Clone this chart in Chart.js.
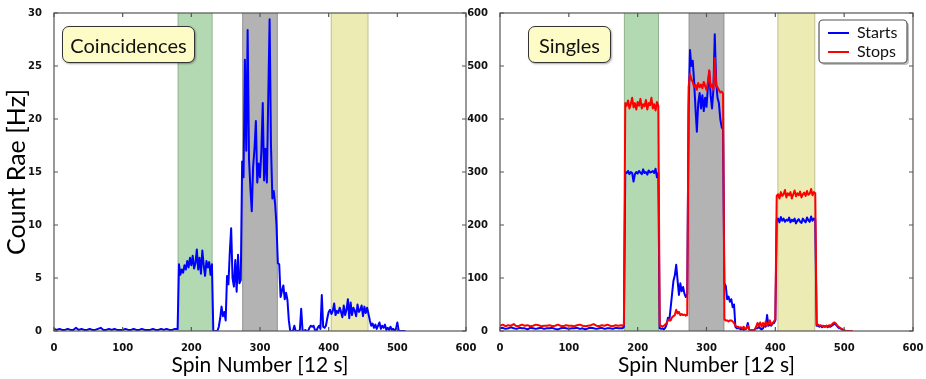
<!DOCTYPE html>
<html>
<head>
<meta charset="utf-8">
<script src="https://cdn.jsdelivr.net/npm/chart.js@4.4.0/dist/chart.umd.min.js"></script>
<style>
  body { margin: 0; background: #fff; }
  #wrap { position: relative; width: 926px; height: 379px; overflow: hidden; }
  #wrap canvas { position: absolute; top: 0; }
  .note {
    position: absolute; box-sizing: border-box;
    background: #fdfcc6; border: 1.5px solid #333; border-radius: 7px;
    box-shadow: 1px 1px 2px rgba(0,0,0,0.35);
    font-family: Lato, sans-serif; font-size: 20px; color: #111;
    display: flex; align-items: center; justify-content: center;
  }
</style>
</head>
<body>
<div id="wrap">
  <canvas id="coincChart" width="480" height="379" style="left:0"></canvas>
  <canvas id="singlesChart" width="464" height="379" style="left:462px"></canvas>
  <div class="note" style="left:62px;top:26px;width:133px;height:37px">Coincidences</div>
  <div class="note" style="left:528px;top:26px;width:83px;height:37px">Singles</div>
</div>
<script>
// spin number of each sample: every 4th spin on the flat baseline, every 2nd after that
const spins = [
    0,4,8,12,16,20,24,28,32,36,40,44,48,52,56,60,64,68,72,76,80,84,88,92,96,
    100,104,108,112,116,120,124,128,132,136,140,144,148,152,156,160,164,168,172,176,
    178,180,182,184,186,188,190,192,194,196,
    198,200,202,204,206,208,210,212,214,216,
    218,220,222,224,226,228,230,232,234,236,
    238,240,242,244,246,248,250,252,254,256,
    258,260,262,264,266,268,270,272,274,276,
    278,280,282,284,286,288,290,292,294,296,
    298,300,302,304,306,308,310,312,314,316,
    318,320,322,324,326,328,330,332,334,336,
    338,340,342,344,346,348,350,352,354,356,
    358,360,362,364,366,368,370,372,374,376,
    378,380,382,384,386,388,390,392,394,396,
    398,400,402,404,406,408,410,412,414,416,
    418,420,422,424,426,428,430,432,434,436,
    438,440,442,444,446,448,450,452,454,456,
    458,460,462,464,466,468,470,472,474,476,
    478,480,482,484,486,488,490,492,494,496,
    498,500,502,504,506,508,510,512
];

// coincidence rate [Hz]
const coincidences = [
    0.2,0.1,0.2,0.1,0.1,0.2,0.1,0.1,0.3,
    0.1,0.2,0.1,0.1,0.2,0.1,0.1,0.2,0.3,
    0.1,0.1,0.2,0.1,0.2,0.1,0.1,0.1,0.2,
    0.1,0.1,0.2,0.1,0.1,0.2,0.1,0.1,0.1,
    0.2,0.1,0.1,0.2,0.1,0.2,0.1,0.1,0.2,
    0.2,0.2,6.3,5.3,5.8,5.5,6.2,5.8,6.6,6.0,
    6.9,6.2,7.1,5.9,6.4,7.7,5.8,6.9,5.4,7.6,
    6.2,5.2,6.6,6.0,6.5,5.3,6.3,0.0,0.0,0.0,
    0.0,0.4,1.2,2.3,1.4,1.8,1.0,5.2,4.4,7.4,
    9.7,5.0,4.2,6.7,3.7,7.2,4.5,4.8,16.0,14.5,
    25.6,17.0,28.4,16.2,13.5,11.3,15.5,17.2,19.8,14.0,
    15.8,14.5,17.0,21.5,14.2,17.2,14.0,22.0,29.4,17.5,
    12.5,13.2,12.0,10.0,6.4,6.3,3.2,3.8,4.3,3.0,
    3.6,2.9,1.0,0.0,0.0,0.0,0.5,0.0,0.0,0.0,
    0.1,2.1,0.0,0.0,0.1,0.0,0.0,0.3,0.5,0.4,
    0.5,0.1,0.0,0.3,0.5,0.2,3.4,0.4,0.3,0.5,
    1.2,1.8,2.0,1.6,1.9,2.6,1.5,1.9,1.7,2.2,
    1.8,1.3,2.4,1.5,2.0,3.0,1.2,2.7,1.5,2.2,
    1.9,1.4,2.5,1.8,2.0,2.4,1.4,2.3,1.7,2.2,
    1.6,1.0,0.5,0.7,0.3,0.6,0.2,0.5,0.8,0.2,
    0.5,0.3,0.6,0.1,0.3,0.1,0.4,0.1,0.2,0.0,
    0.2,0.8,0.0,0.0,0.0,0.0,0.0,0.0
];

// singles rates [Hz]
const starts = [
    5,6,4,5,7,5,4,6,5,
    5,3,6,5,4,5,6,4,5,
    5,6,4,3,5,6,5,4,5,
    5,6,4,5,3,5,6,5,4,
    5,6,4,5,5,4,6,5,5,
    5,8,300,298,302,296,300,298,282,296,
    300,297,302,299,296,305,298,300,295,303,
    299,300,302,298,306,290,298,5,4,5,
    3,6,12,25,20,45,70,95,105,125,
    95,68,90,75,83,70,64,70,420,530,
    500,510,470,420,376,430,449,420,445,415,
    440,423,460,490,445,420,455,560,470,440,
    430,400,385,380,90,85,60,65,55,60,
    45,50,8,5,5,5,3,5,2,3,
    5,15,3,0,2,0,3,5,5,8,
    5,3,5,10,8,30,10,12,10,14,
    15,20,210,212,205,215,208,212,206,210,
    208,214,205,210,207,212,203,208,211,206,
    204,212,208,205,214,209,206,216,208,212,
    210,10,10,8,10,7,9,8,10,7,
    9,8,10,12,14,12,9,6,5,4,
    2,1,0,0,0,0,0,0
];

const stops = [
    10,12,9,11,10,13,9,10,12,
    10,11,9,10,12,11,9,10,10,
    11,9,10,12,10,9,11,10,10,
    9,11,12,10,9,10,11,13,10,
    9,11,10,12,10,9,11,10,11,
    10,12,430,425,435,420,428,440,422,430,
    418,432,425,438,420,428,424,436,418,430,
    426,440,420,428,416,432,425,10,10,8,
    10,12,15,20,22,20,26,28,30,40,
    33,36,30,32,30,31,29,30,460,485,
    475,470,460,465,455,468,460,465,458,470,
    462,455,470,492,460,465,455,515,462,460,
    455,450,452,448,22,20,20,18,20,20,
    18,15,10,8,8,6,7,5,8,4,
    5,10,3,0,2,0,2,8,15,10,
    16,8,15,10,18,10,14,20,12,15,
    18,22,255,258,250,262,255,258,266,252,
    260,256,262,250,258,265,254,260,256,263,
    252,258,261,255,264,257,259,268,256,262,
    260,12,12,10,11,9,10,8,10,9,
    11,10,12,15,16,14,10,8,6,4,
    3,1,0,0,0,0,0,0
];

// shaded spin ranges
const bandStarts = [180, 274, 403];
const bandEnds = [231, 326, 458];
const bandColors = ['#b3d9b3', '#b3b3b3', '#ebebb3'];

const titleFont = 'Lato, sans-serif';
const tickFont = {family: 'DejaVu Sans', size: 10, weight: 'bold'};

function points(values) {
    return spins.map((s, i) => ({x: s, y: values[i]}));
}

// shaded regions behind the lines
const bandsPlugin = {
    id: 'bands',
    beforeDatasetsDraw(chart) {
        const {ctx, chartArea: a, scales: {x}} = chart;
        ctx.save();
        bandStarts.forEach((s, i) => {
            const x0 = x.getPixelForValue(s);
            const x1 = x.getPixelForValue(bandEnds[i]);
            ctx.fillStyle = bandColors[i];
            ctx.fillRect(x0, a.top, x1 - x0, a.height);
            ctx.strokeStyle = 'rgba(0,0,0,0.18)';
            ctx.lineWidth = 1;
            ctx.beginPath();
            ctx.moveTo(x0 + 0.5, a.top); ctx.lineTo(x0 + 0.5, a.bottom);
            ctx.moveTo(x1 - 0.5, a.top); ctx.lineTo(x1 - 0.5, a.bottom);
            ctx.stroke();
        });
        ctx.restore();
    }
};

// box round the plot with inward ticks on all four sides
const framePlugin = {
    id: 'frame',
    afterDatasetsDraw(chart) {
        const {ctx, chartArea: a, scales: {x, y}} = chart;
        ctx.save();
        ctx.strokeStyle = '#555';
        ctx.lineWidth = 1.2;
        ctx.strokeRect(a.left, a.top, a.width, a.height);
        ctx.beginPath();
        x.ticks.forEach(t => {
            const px = x.getPixelForValue(t.value);
            ctx.moveTo(px, a.bottom); ctx.lineTo(px, a.bottom - 4);
            ctx.moveTo(px, a.top); ctx.lineTo(px, a.top + 4);
        });
        y.ticks.forEach(t => {
            const py = y.getPixelForValue(t.value);
            ctx.moveTo(a.left, py); ctx.lineTo(a.left + 4, py);
            ctx.moveTo(a.right, py); ctx.lineTo(a.right - 4, py);
        });
        ctx.stroke();
        ctx.restore();
    }
};

// moves the legend to the top right corner of the plot and frames it
const legendBoxPlugin = {
    id: 'legendBox',
    afterLayout(chart) {
        const lg = chart.legend, a = chart.chartArea;
        lg.left = a.right - 88;
        lg.right = a.right;
        lg.top = a.top + 9;
        lg.width = lg.right - lg.left;
        lg.height = lg.bottom - lg.top;
    },
    beforeDraw(chart) {
        const {ctx, chartArea: a} = chart;
        const bx = a.right - 94, by = a.top + 7, bw = 88, bh = 43;
        ctx.save();
        ctx.fillStyle = 'rgba(0,0,0,0.25)';
        ctx.beginPath(); ctx.roundRect(bx + 2, by + 2, bw, bh, 4); ctx.fill();
        ctx.fillStyle = '#fff';
        ctx.strokeStyle = '#555';
        ctx.lineWidth = 1.2;
        ctx.beginPath(); ctx.roundRect(bx, by, bw, bh, 4); ctx.fill(); ctx.stroke();
        ctx.restore();
    }
};

function xScale() {
    return {
        type: 'linear', min: 0, max: 600,
        grid: {display: false},
        border: {display: false},
        ticks: {stepSize: 100, font: tickFont, color: '#111', padding: 3, maxRotation: 0},
        title: {
            display: true, text: 'Spin Number [12 s]', color: '#000',
            font: {family: titleFont, size: 21, lineHeight: 1.2},
            padding: {top: 0, bottom: 1}
        },
        afterFit(s) { s.height = 48; s.paddingLeft = 0; s.paddingRight = 0; }
    };
}

new Chart(document.getElementById('coincChart'), {
    type: 'line',
    data: {
        datasets: [{
            label: 'Coincidences',
            data: points(coincidences),
            borderColor: '#0000ff',
            borderWidth: 2,
            pointRadius: 0,
            borderJoinStyle: 'round',
            tension: 0
        }]
    },
    options: {
        responsive: false,
        animation: false,
        layout: {padding: {top: 13, right: 14, left: 0, bottom: 0}},
        scales: {
            x: xScale(),
            y: {
                min: 0, max: 30,
                grid: {display: false},
                border: {display: false},
                ticks: {stepSize: 5, font: tickFont, color: '#111', padding: 4},
                title: {
                    display: true, text: 'Count Rae [Hz]', color: '#000',
                    font: {family: titleFont, size: 25, lineHeight: 1.2},
                    padding: {top: 2, bottom: 0}
                },
                afterFit(s) { s.width = 54; }
            }
        },
        plugins: {legend: {display: false}, tooltip: {enabled: false}}
    },
    plugins: [bandsPlugin, framePlugin]
});

new Chart(document.getElementById('singlesChart'), {
    type: 'line',
    data: {
        datasets: [
            {
                label: 'Starts',
                data: points(starts),
                borderColor: '#0000ff',
                backgroundColor: '#0000ff',
                borderWidth: 2,
                pointRadius: 0,
                borderJoinStyle: 'round',
                order: 1
            },
            {
                label: 'Stops',
                data: points(stops),
                borderColor: '#ff0000',
                backgroundColor: '#ff0000',
                borderWidth: 2,
                pointRadius: 0,
                borderJoinStyle: 'round',
                order: 0
            }
        ]
    },
    options: {
        responsive: false,
        animation: false,
        layout: {padding: {top: 13, right: 13, left: 0, bottom: 0}},
        scales: {
            x: xScale(),
            y: {
                min: 0, max: 600,
                grid: {display: false},
                border: {display: false},
                ticks: {stepSize: 100, font: tickFont, color: '#111', padding: 4},
                afterFit(s) { s.width = 38; }
            }
        },
        plugins: {
            legend: {
                position: 'chartArea',
                align: 'start',
                labels: {
                    usePointStyle: true,
                    pointStyle: 'line',
                    pointStyleWidth: 21,
                    padding: 3,
                    color: '#111',
                    font: {family: titleFont, size: 16},
                    sort: (a, b) => a.datasetIndex - b.datasetIndex
                }
            },
            tooltip: {enabled: false}
        }
    },
    plugins: [bandsPlugin, framePlugin, legendBoxPlugin]
});
</script>
</body>
</html>
